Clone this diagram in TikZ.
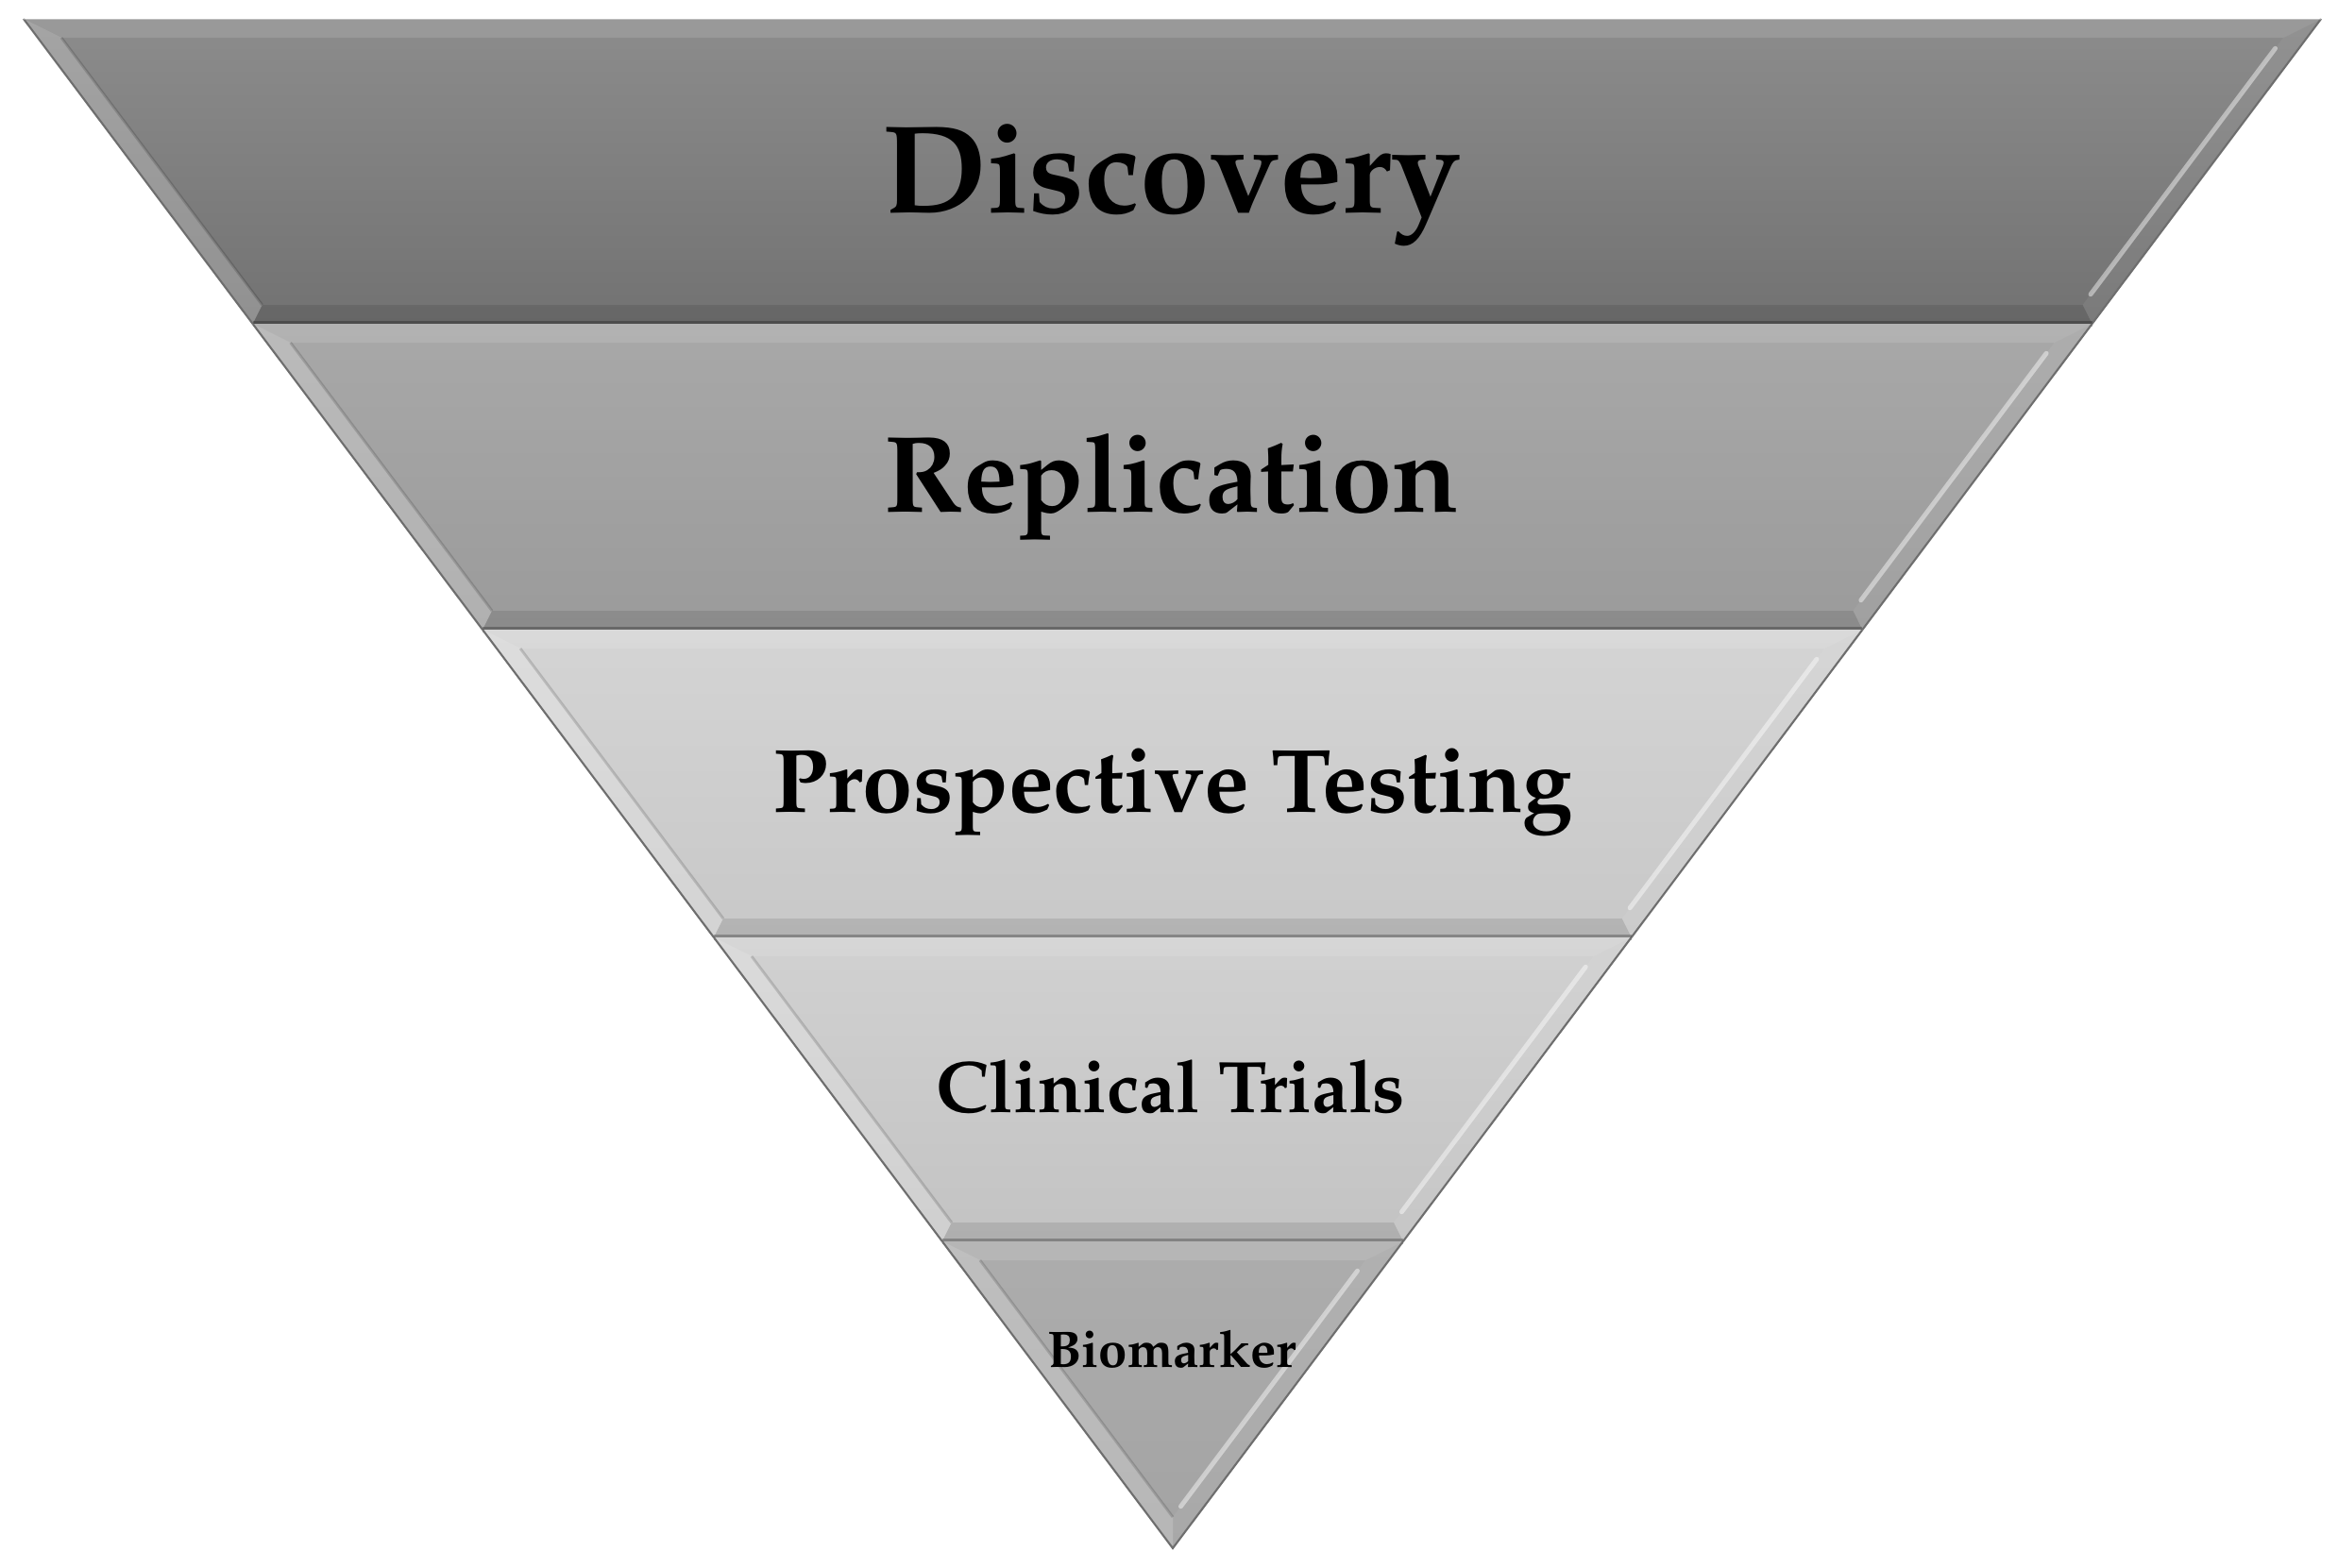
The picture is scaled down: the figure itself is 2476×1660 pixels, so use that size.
\documentclass[tikz,border=0pt]{standalone}
\usepackage[T1]{fontenc}
\usetikzlibrary{calc}
\definecolor{aT}{HTML}{8C8C8C}\definecolor{aB}{HTML}{727272}
\definecolor{bT}{HTML}{A8A8A8}\definecolor{bB}{HTML}{9B9B9B}
\definecolor{cT}{HTML}{D4D4D4}\definecolor{cB}{HTML}{C8C8C8}
\definecolor{dT}{HTML}{D1D1D1}\definecolor{dB}{HTML}{C3C3C3}
\definecolor{eT}{HTML}{ADADAD}\definecolor{eB}{HTML}{A3A3A3}
\definecolor{edge}{HTML}{6E6E6E}
\newcommand\palfont[1]{\fontfamily{ppl}\fontseries{b}\fontsize{#1}{#1}\selectfont}
% band: ytop, ybot, top colour, bottom colour
\newcommand\tband[4]{%
  \pgfmathsetmacro\yT{#1}\pgfmathsetmacro\yB{#2}%
  \pgfmathsetmacro\yTi{#1+20}\pgfmathsetmacro\yBi{#2-20}%
  \coordinate (A) at ({xl(\yT)},\yT);
  \coordinate (B) at ({xr(\yT)},\yT);
  \coordinate (C) at ({xr(\yB)},\yB);
  \coordinate (D) at ({xl(\yB)},\yB);
  \coordinate (a) at ({xl(\yTi)+25},\yTi);
  \coordinate (b) at ({xr(\yTi)-25},\yTi);
  \coordinate (c) at ({xr(\yBi)-25},\yBi);
  \coordinate (d) at ({xl(\yBi)+25},\yBi);
  \shade[top color=#3,bottom color=#4] (A)--(B)--(C)--(D)--cycle;
  \fill[white,opacity=.12] (A)--(B)--(b)--(a)--cycle;
  \fill[white,opacity=.22] (D)--(A)--(a)--(d)--cycle;
  \fill[white,opacity=.06] (B)--(C)--(c)--(b)--cycle;
  \fill[black,opacity=.10] (C)--(D)--(d)--(c)--cycle;
  \draw[white,opacity=.45,line width=1.4pt,line cap=round,shorten >=4pt,shorten <=4pt] (b)--(c);
  \draw[black,opacity=.15,line width=.8pt] (a)--(d);
  \draw[edge,line width=.6pt] (A)--(D) (B)--(C);
  \draw[black,opacity=.25,line width=1.6pt] (D)--(C);
}
\begin{document}
\begin{tikzpicture}[x=0.01cm,y=-0.01cm,
  declare function={xl(\v)=25+0.75123*(\v-20); xr(\v)=2458-0.75062*(\v-20);},
  lbl/.style={anchor=base,inner sep=0pt,text=black}]
\path[fill=white] (0,0) rectangle (2476,1660);
\useasboundingbox (0,0) rectangle (2476,1660);
\tband{20}{343}{aT}{aB}
\draw[white,opacity=.35,line width=.8pt] ({xl(20)},20)--({xr(20)},20);
\tband{343}{667}{bT}{bB}
\tband{667}{993}{cT}{cB}
\tband{993}{1315}{dT}{dB}
% last band (triangle)
\coordinate (A) at ({xl(1315)},1315);
\coordinate (B) at ({xr(1315)},1315);
\coordinate (P) at (1242,1640);
\coordinate (a) at ({xl(1335)+25},1335);
\coordinate (b) at ({xr(1335)-25},1335);
\coordinate (p) at (1242,1607);
\shade[top color=eT,bottom color=eB] (A)--(B)--(P)--cycle;
\fill[white,opacity=.12] (A)--(B)--(b)--(a)--cycle;
\fill[white,opacity=.22] (P)--(A)--(a)--(p)--cycle;
\fill[white,opacity=.06] (B)--(P)--(p)--(b)--cycle;
\draw[white,opacity=.45,line width=1.4pt,line cap=round,shorten >=4pt,shorten <=4pt] (b)--(p);
\draw[black,opacity=.15,line width=.8pt] (a)--(p);
\draw[edge,line width=.6pt] (A)--(P)--(B);
% labels
\node[lbl,font=\palfont{37.8pt}] (disc) at (1241,225) {Discovery};
\node[lbl,font=\palfont{32.8pt}] (repl) at (1241,542) {Replication};
\node[lbl,font=\palfont{27.2pt}] (prosp) at (1242,860) {Prospective Testing};
\node[lbl,font=\palfont{22pt}] (clin) at (1240,1178) {Clinical Trials};
\node[lbl,font=\palfont{15.5pt}] (bio) at (1241,1448) {Biomarker};
\end{tikzpicture}
\end{document}
